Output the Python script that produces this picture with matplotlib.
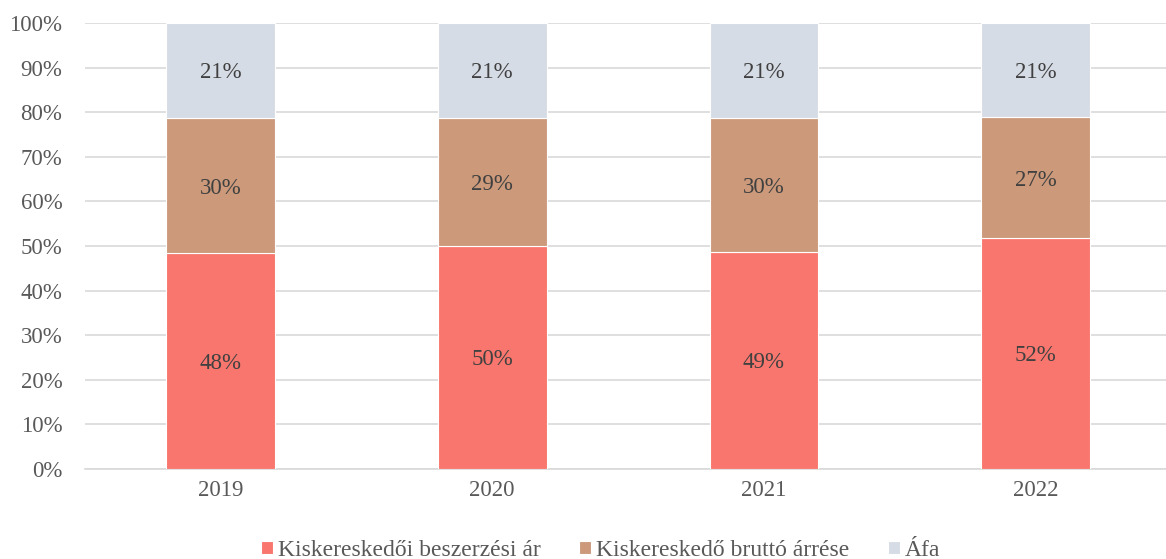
import matplotlib
matplotlib.use("Agg")
import matplotlib.pyplot as plt
import numpy as np

years = ["2019", "2020", "2021", "2022"]
beszerzesi = [48.4, 50.0, 48.7, 51.8]
arres = [30.3, 28.7, 30.0, 27.0]
afa = [21.3, 21.3, 21.3, 21.2]
labels_b = ["48%", "50%", "49%", "52%"]
labels_a = ["30%", "29%", "30%", "27%"]
labels_f = ["21%", "21%", "21%", "21%"]
series_names = ["Kiskereskedői beszerzési ár", "Kiskereskedő bruttó árrése", "Áfa"]
colors = ["#F8766D", "#CC9A7B", "#D6DCE5"]

plt.rcParams['font.family'] = ['Liberation Serif', 'DejaVu Serif']

fig = plt.figure(figsize=(11.66, 5.59), dpi=100)
ax = fig.add_axes([0.0726, 0.161, 0.932, 0.798])

x = np.arange(len(years))
w = 0.4
b1 = ax.bar(x, beszerzesi, w, color=colors[0], edgecolor="white", linewidth=0.8, label=series_names[0], zorder=3)
b2 = ax.bar(x, arres, w, bottom=beszerzesi, color=colors[1], edgecolor="white", linewidth=0.8, label=series_names[1], zorder=3)
bot3 = [a + b for a, b in zip(beszerzesi, arres)]
b3 = ax.bar(x, afa, w, bottom=bot3, color=colors[2], edgecolor="white", linewidth=0.8, label=series_names[2], zorder=3)

txtc = "#404040"
fs = 16.5
for i in range(len(years)):
    ax.text(x[i], beszerzesi[i] / 2, labels_b[i], ha="center", va="center_baseline", fontsize=fs, color=txtc, zorder=4)
    ax.text(x[i], beszerzesi[i] + arres[i] / 2, labels_a[i], ha="center", va="center_baseline", fontsize=fs, color=txtc, zorder=4)
    ax.text(x[i], bot3[i] + afa[i] / 2, labels_f[i], ha="center", va="center_baseline", fontsize=fs, color=txtc, zorder=4)

ax.set_xlim(-0.5, len(years) - 0.5)
ax.set_ylim(0, 100)
ax.set_yticks(np.arange(0, 101, 10))
ax.set_yticklabels([f"{v}%" for v in range(0, 101, 10)])
ax.set_xticks(x)
ax.set_xticklabels(years)
ax.yaxis.grid(True, color="#D9D9D9", linewidth=1.2, zorder=0)
ax.set_axisbelow(True)
for s in ["top", "right", "left"]:
    ax.spines[s].set_visible(False)
ax.spines["bottom"].set_color("#D9D9D9")
ax.spines["bottom"].set_linewidth(1.2)
ax.tick_params(axis="both", length=0, labelsize=fs, labelcolor="#595959", pad=8)
ax.tick_params(axis="y", pad=16)

fig.legend(handles=[b1, b2, b3], labels=series_names, loc="center", bbox_to_anchor=(0.515, 0.015),
           ncol=3, frameon=False, fontsize=17, handlelength=0.5, handleheight=0.5,
           handletextpad=0.2, columnspacing=1.65, labelcolor="#595959")

fig.savefig("out.png", dpi=100)
